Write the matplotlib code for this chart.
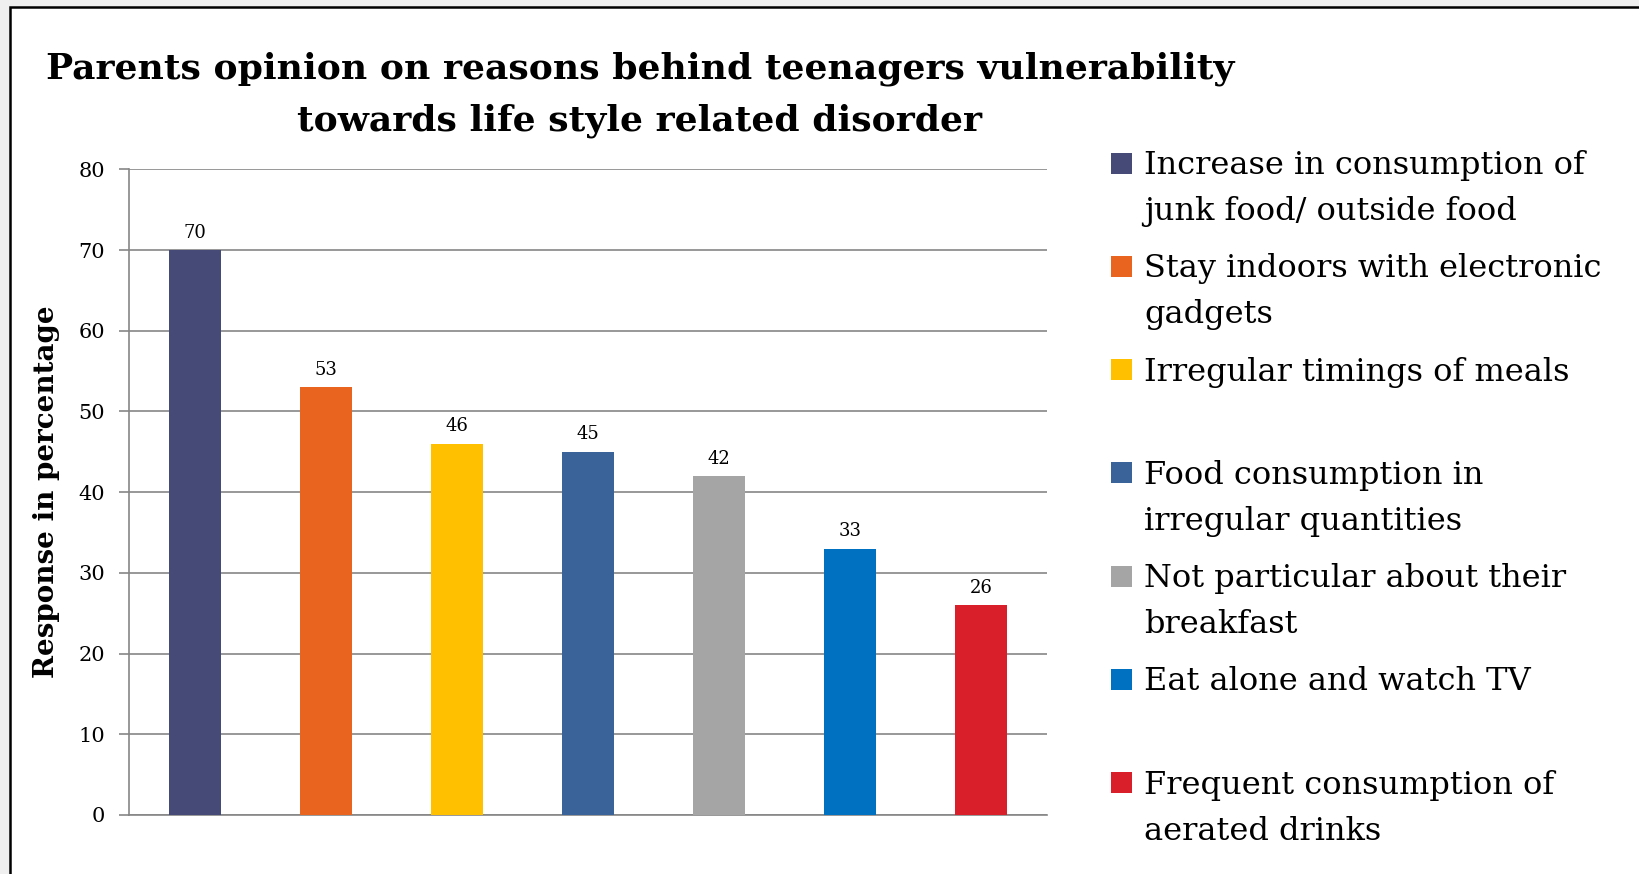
import matplotlib
matplotlib.use("Agg")
import matplotlib.pyplot as plt
from matplotlib.patches import Rectangle

# Survey results: share of parents citing each reason (%)
reasons = [
    "Increase in consumption of\njunk food/ outside food",
    "Stay indoors with electronic\ngadgets",
    "Irregular timings of meals",
    "Food consumption in\nirregular quantities",
    "Not particular about their\nbreakfast",
    "Eat alone and watch TV",
    "Frequent consumption of\naerated drinks",
]
responses = [70, 53, 46, 45, 42, 33, 26]
bar_colors = ["#464a77", "#e8641f", "#ffc000", "#3a6499", "#a5a5a5", "#0070c0", "#d9202a"]
y_ticks = [0, 10, 20, 30, 40, 50, 60, 70, 80]

title_lines = ["Parents opinion on reasons behind teenagers vulnerability",
               "towards life style related disorder"]
y_label = "Response in percentage"

W, H = 1640, 874
SERIF = ["DejaVu Serif"]
GRID = "#868686"

fig = plt.figure(figsize=(W / 100, H / 100), dpi=100)
fig.patch.set_facecolor("#efefef")

# White page with a black rule on the left and top
fig.patches.append(Rectangle((10 / W, -0.2), 1.5, 1.2 - 7 / H,
                             transform=fig.transFigure, facecolor="white",
                             edgecolor="black", lw=1.8, zorder=-10))

def fx(px):
    return px / W

def fy(py):
    return 1 - py / H

ax = fig.add_axes([fx(129.5), fy(815), fx(1046.5 - 129.5), (815 - 169.3) / H])
ax.set_zorder(1)
ax.patch.set_alpha(0)
x = list(range(len(responses)))
bars = ax.bar(x, responses, width=0.4, color=bar_colors, zorder=3)
for rect, v in zip(bars, responses):
    ax.annotate(f"{v}", (rect.get_x() + rect.get_width() / 2, v),
                xytext=(0, 6), textcoords="offset points", ha="center", va="bottom",
                fontsize=13, family=SERIF, color="black")

ax.set_xlim(-0.5, len(responses) - 0.5)
ax.set_ylim(0, 80)
ax.set_yticks(y_ticks)
ax.set_xticks([])
ax.yaxis.grid(True, color=GRID, lw=1.2, zorder=0)
ax.set_axisbelow(True)
for s in ["top", "right"]:
    ax.spines[s].set_visible(False)
for s in ["left", "bottom"]:
    ax.spines[s].set_color(GRID)
    ax.spines[s].set_linewidth(1.2)
ax.tick_params(axis="y", length=7.5, width=1.2, color=GRID, pad=10, labelsize=15)
for lab in ax.get_yticklabels():
    lab.set_family(SERIF)

fig.text(fx(47), fy(492), y_label, rotation=90, ha="center", va="center",
         fontsize=20, fontweight="bold", family=SERIF)

# Title, two centred lines
for i, line in enumerate(title_lines):
    fig.text(fx(640), fy(79 + 51 * i), line, ha="center", va="baseline",
             fontsize=26, fontweight="bold", family=SERIF)

# Legend drawn as colour swatches with wrapped labels
first_center = 163
step = 103.3
sq = 21
for i, (label, c) in enumerate(zip(reasons, bar_colors)):
    cy = first_center + i * step
    fig.patches.append(Rectangle((fx(1111), fy(cy + sq / 2)), sq / W, sq / H,
                                 transform=fig.transFigure, facecolor=c,
                                 edgecolor="none", zorder=2))
    for j, part in enumerate(label.split("\n")):
        fig.text(fx(1144), fy(cy + 11 + 46 * j), part, ha="left", va="baseline",
                 fontsize=23, family=SERIF)

fig.savefig("out.png", dpi=100, facecolor=fig.get_facecolor())
